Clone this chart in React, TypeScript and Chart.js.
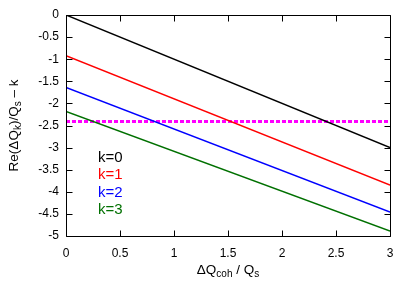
import React, { useEffect, useRef } from "react";
import { Chart, registerables } from "chart.js";

Chart.register(...registerables);

const xValues = [0, 3];
const seriesLabels = ["k=0", "k=1", "k=2", "k=3"];
const k0 = [0, -3.0];
const k1 = [-0.92, -3.85];
const k2 = [-1.64, -4.46];
const k3 = [-2.18, -4.89];
const thresholdLine = [-2.41, -2.41];
const seriesColors = ["#000000", "#ff0000", "#0000ff", "#007000"];
const thresholdColor = "#ff00ff";
const xTickValues = [0, 0.5, 1, 1.5, 2, 2.5, 3];
const yTickValues = [0, -0.5, -1, -1.5, -2, -2.5, -3, -3.5, -4, -4.5, -5];

const FONT = "'Liberation Sans', Arial, Helvetica, sans-serif";

type Seg = { t: string; sub?: boolean };

function drawRich(ctx: CanvasRenderingContext2D, segs: Seg[], size: number, subSize: number) {
  let total = 0;
  const widths: number[] = [];
  for (const s of segs) {
    ctx.font = `${s.sub ? subSize : size}px ${FONT}`;
    const w = ctx.measureText(s.t).width;
    widths.push(w);
    total += w;
  }
  let x = -total / 2;
  ctx.textBaseline = "alphabetic";
  ctx.textAlign = "left";
  segs.forEach((s, i) => {
    ctx.font = `${s.sub ? subSize : size}px ${FONT}`;
    ctx.fillText(s.t, x, s.sub ? size * 0.35 + 3 : size * 0.35);
    x += widths[i];
  });
}

const framePlugin = {
  id: "frame",
  afterDraw(chart: any) {
    const ctx: CanvasRenderingContext2D = chart.ctx;
    const { left, right, top, bottom } = chart.chartArea;
    const xs = chart.scales.x;
    const ys = chart.scales.y;
    ctx.save();
    ctx.strokeStyle = "#000";
    ctx.lineWidth = 1;
    ctx.beginPath();
    const L = Math.round(left) + 0.5;
    const R = Math.round(right) + 0.5;
    const T = Math.round(top) + 0.5;
    const B = Math.round(bottom) + 0.5;
    ctx.rect(L, T, R - L, B - T);
    const tl = 6;
    for (const v of xTickValues) {
      const px = Math.round(xs.getPixelForValue(v)) + 0.5;
      ctx.moveTo(px, B);
      ctx.lineTo(px, B - tl);
      ctx.moveTo(px, T);
      ctx.lineTo(px, T + tl);
    }
    for (const v of yTickValues) {
      const py = Math.round(ys.getPixelForValue(v)) + 0.5;
      ctx.moveTo(L, py);
      ctx.lineTo(L + tl, py);
      ctx.moveTo(R, py);
      ctx.lineTo(R - tl, py);
    }
    ctx.stroke();

    ctx.font = `15px ${FONT}`;
    ctx.textAlign = "left";
    ctx.textBaseline = "middle";
    seriesLabels.forEach((lab, i) => {
      ctx.fillStyle = seriesColors[i];
      ctx.fillText(lab, 98, 158 + i * 17.3);
    });

    ctx.fillStyle = "#000";
    ctx.save();
    ctx.translate((left + right) / 2, 269);
    drawRich(ctx, [{ t: "\u0394Q" }, { t: "coh", sub: true }, { t: " / Q" }, { t: "s", sub: true }], 13.5, 10);
    ctx.restore();
    ctx.save();
    ctx.translate(13, (top + bottom) / 2);
    ctx.rotate(-Math.PI / 2);
    drawRich(
      ctx,
      [{ t: "Re(\u0394Q" }, { t: "k", sub: true }, { t: ")/Q" }, { t: "s", sub: true }, { t: " \u2013 k" }],
      13.5,
      10
    );
    ctx.restore();
    ctx.restore();
  },
};

export default function App() {
  const ref = useRef<HTMLCanvasElement>(null);
  useEffect(() => {
    if (!ref.current) return;
    const mk = (vals: number[]) => xValues.map((x, i) => ({ x, y: vals[i] }));
    const series = [k0, k1, k2, k3];
    const chart = new Chart(ref.current, {
      type: "line",
      data: {
        datasets: [
          ...series.map((s, i) => ({
            label: seriesLabels[i],
            data: mk(s),
            borderColor: seriesColors[i],
            borderWidth: 1.5,
            pointRadius: 0,
            fill: false,
          })),
          {
            label: "threshold",
            data: mk(thresholdLine),
            borderColor: thresholdColor,
            borderWidth: 3,
            borderDash: [4, 2],
            pointRadius: 0,
            fill: false,
          },
        ],
      },
      options: {
        animation: false,
        responsive: false,
        devicePixelRatio: 1,
        layout: { padding: { left: 0, right: 25, top: 15, bottom: 0 } },
        plugins: { legend: { display: false }, tooltip: { enabled: false } },
        scales: {
          x: {
            type: "linear",
            min: 0,
            max: 3,
            grid: { display: false, drawTicks: false },
            border: { display: false },
            afterFit: (s: any) => {
              s.height = 54;
            },
            afterBuildTicks: (s: any) => {
              s.ticks = xTickValues.map((v) => ({ value: v }));
            },
            ticks: {
              padding: 10,
              color: "#000",
              font: { family: FONT, size: 12 },
              maxRotation: 0,
              callback: (v: any) => String(v),
            },
          },
          y: {
            type: "linear",
            min: -5,
            max: 0,
            grid: { display: false, drawTicks: false },
            border: { display: false },
            afterFit: (s: any) => {
              s.width = 66;
            },
            afterBuildTicks: (s: any) => {
              s.ticks = yTickValues.map((v) => ({ value: v }));
            },
            ticks: {
              padding: 7,
              color: "#000",
              font: { family: FONT, size: 12 },
              callback: (v: any) => String(v),
            },
          },
        },
      },
      plugins: [framePlugin],
    });
    return () => chart.destroy();
  }, []);
  return (
    <div style={{ position: "absolute", left: 0, top: 0, width: 415, height: 290, background: "#fff" }}>
      <canvas ref={ref} width={415} height={290} style={{ width: 415, height: 290 }} />
    </div>
  );
}
